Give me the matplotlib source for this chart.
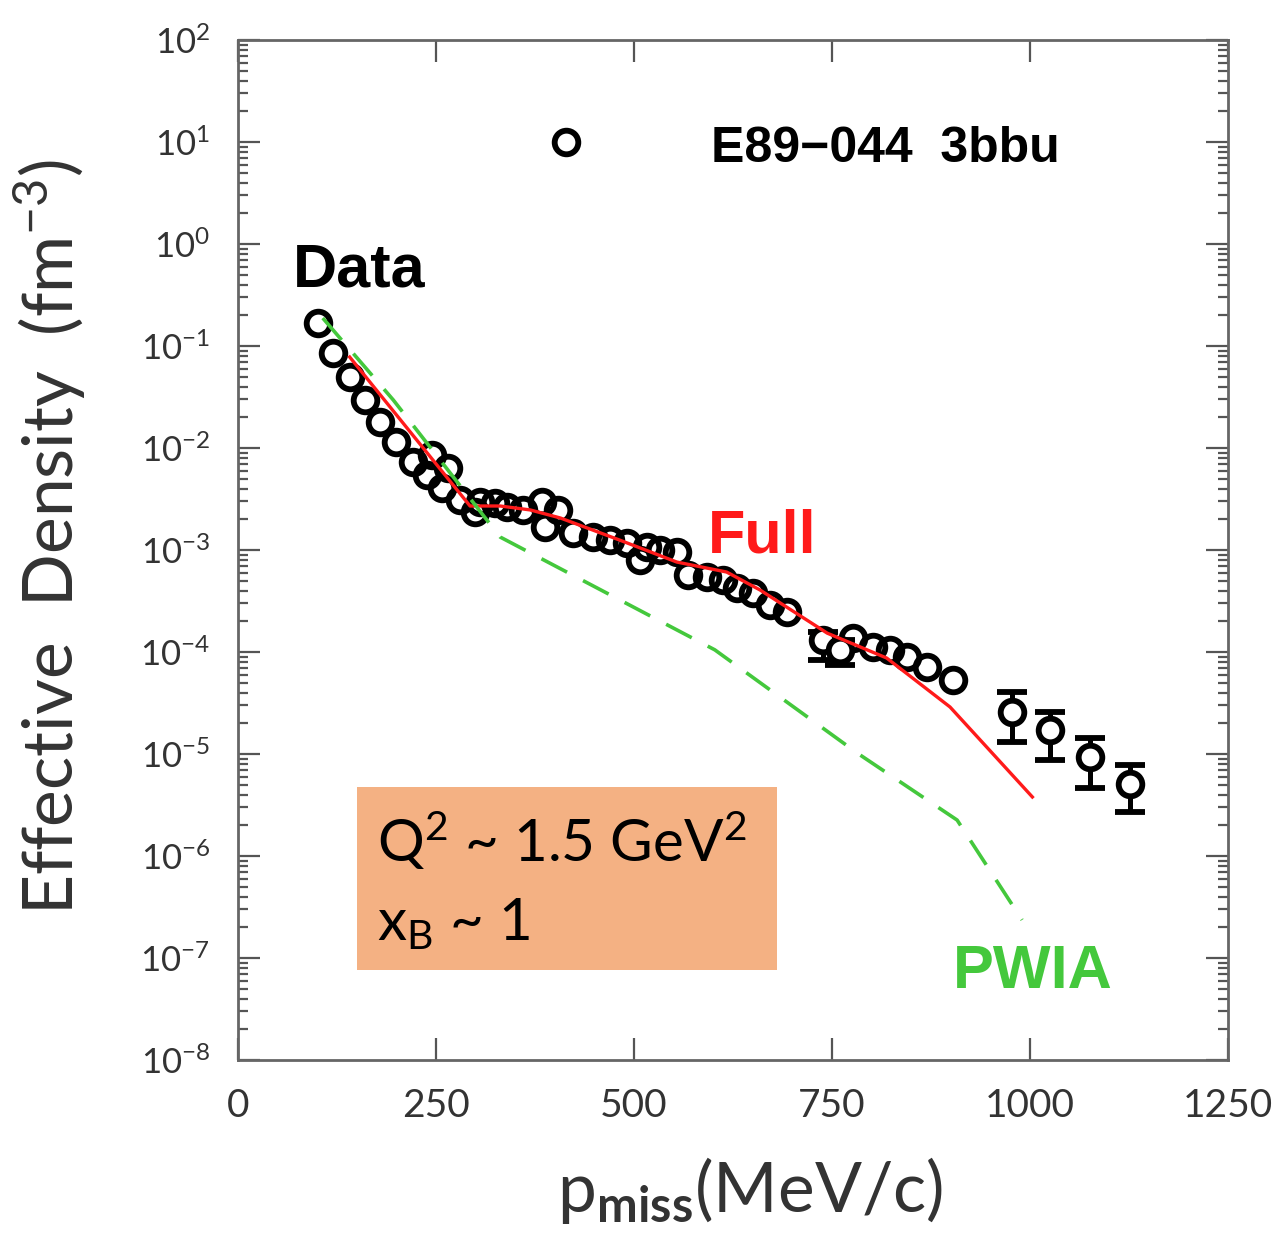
import matplotlib.pyplot as plt
import numpy as np
from matplotlib.patches import Rectangle
from matplotlib.ticker import LogLocator, FixedLocator, NullFormatter

plt.rcParams['font.family'] = ['Lato', 'DejaVu Sans']
plt.rcParams['mathtext.fontset'] = 'custom'
plt.rcParams['mathtext.rm'] = 'Lato'
plt.rcParams['mathtext.bf'] = 'Lato:bold'
plt.rcParams['mathtext.it'] = 'Lato:italic'

# E89-044 3bbu effective density, points without visible error bars
p_data = [101, 120, 141, 160, 179, 200, 221, 239, 245, 258, 265, 280, 299, 306,
          325, 340, 360, 384, 388, 404, 423, 448, 470, 491, 508, 516, 533, 554,
          568, 592, 612, 630, 650, 672, 693, 777, 802, 823, 845, 870, 903]
dens_data = [0.168, 0.0853, 0.0497, 0.0296, 0.0180, 0.0115, 0.0073, 0.00543,
             0.00853, 0.00406, 0.00637, 0.00309, 0.00236, 0.00296, 0.00289,
             0.00264, 0.00247, 0.00296, 0.00168, 0.00247, 0.00147, 0.00134,
             0.00125, 0.00117, 0.000798, 0.00107, 0.00100, 0.000955, 0.000569,
             0.000543, 0.000508, 0.000424, 0.000378, 0.000289, 0.000247,
             1.37e-4, 1.12e-4, 1.05e-4, 8.93e-5, 7.13e-5, 5.31e-5]

# points with error bars
p_err = [739, 760, 977, 1025, 1076, 1126]
dens_err = [1.31e-4, 1.05e-4, 2.58e-5, 1.72e-5, 9.35e-6, 5.08e-6]
err_low = [8.4e-5, 7.5e-5, 1.31e-5, 8.7e-6, 4.65e-6, 2.70e-6]
err_high = [1.57e-4, 1.31e-4, 4.06e-5, 2.58e-5, 1.44e-5, 7.8e-6]

# calculations
p_full = [141, 293, 331, 369, 407, 482, 554, 617, 659, 744, 819, 899, 1003]
dens_full = [0.078, 0.0027, 0.0027, 0.00247, 0.00206, 0.00125, 0.000762,
             0.000608, 0.000406, 0.000153, 8.73e-5, 2.89e-5, 3.79e-6]
p_pwia = [107, 196, 331, 602, 782, 908, 990]
dens_pwia = [0.188, 0.0296, 0.00134, 1.05e-4, 1.02e-5, 2.25e-6, 2.36e-7]

red = '#ff1a1a'
green = '#44c83c'

fig = plt.figure(figsize=(12.73, 12.42), dpi=100)
ax = fig.add_axes([238/1273, 1 - 1060/1242, 990/1273, 1020/1242])

ax.plot(p_data, dens_data, 'o', ms=17, mfc='none', mec='black', mew=4.2, zorder=2)
d = np.array(dens_err)
yerr = [d - np.array(err_low), np.array(err_high) - d]
ax.errorbar(p_err, dens_err, yerr=yerr, fmt='o', ms=17, mfc='white', mec='black',
            mew=4.2, ecolor='black', elinewidth=3.6, capsize=11, capthick=3.6, zorder=2)

ax.plot(p_full, dens_full, '-', color=red, lw=2.4, zorder=4)
ax.plot(p_pwia, dens_pwia, '--', color=green, lw=2.6, dashes=(8, 5), zorder=4)

ax.set_yscale('log')
ax.set_xlim(0, 1250)
ax.set_ylim(1e-8, 1e2)

ax.xaxis.set_major_locator(FixedLocator([0, 250, 500, 750, 1000, 1250]))
ax.yaxis.set_major_locator(LogLocator(base=10, numticks=20))
ax.yaxis.set_minor_locator(LogLocator(base=10, subs=np.arange(2, 10), numticks=20))
ax.yaxis.set_minor_formatter(NullFormatter())

for s in ax.spines.values():
    s.set_color('#666666')
    s.set_linewidth(2)
ax.tick_params(which='both', direction='in', top=True, right=True, color='#555555', width=1.6)
ax.tick_params(which='major', length=16)
ax.tick_params(which='minor', length=7)
ax.tick_params(axis='x', labelsize=28, pad=20, labelcolor='#333333')
ax.tick_params(axis='y', labelsize=25, pad=20, labelcolor='#333333')

# legend entry and curve labels
ax.plot([414], [10], 'o', ms=17, mfc='none', mec='black', mew=4.2)
ax.text(597, 6.4, 'E89\u2212044  3bbu', fontsize=36, fontweight='bold',
        family='Liberation Sans', va='baseline')
ax.text(69, 0.38, 'Data', fontsize=44, fontweight='bold',
        family='Liberation Sans', va='baseline')
ax.text(593, 9.5e-4, 'Full', fontsize=44, fontweight='bold', color=red,
        family='Liberation Sans', va='baseline')
ax.text(903, 5.1e-8, 'PWIA', fontsize=44, fontweight='bold', color=green,
        family='Liberation Sans', va='baseline')

# kinematics box
ax.add_patch(Rectangle((150, 7.6e-8), 530, 4.74e-6 - 7.6e-8, facecolor='#f4b183',
                       edgecolor='none', zorder=1))
ax.text(175, 8.7e-7, r'Q$^2$ ~ 1.5 GeV$^2$', fontsize=42, va='baseline', zorder=3)
ax.text(175, 1.5e-7, r'x$_\mathregular{B}$ ~ 1', fontsize=42, va='baseline', zorder=3)

fig.text(50/1273, 1 - 537/1242, r'Effective  Density  (fm$^{-3}$)', rotation=90,
         fontsize=50, color='#333333', ha='center', va='center')
fig.text(750/1273, 1 - 1190/1242, r'$\mathrm{p}_{\mathbf{miss}}$(MeV/c)',
         fontsize=50, color='#333333', ha='center', va='center')

fig.savefig('out.png', dpi=100)
